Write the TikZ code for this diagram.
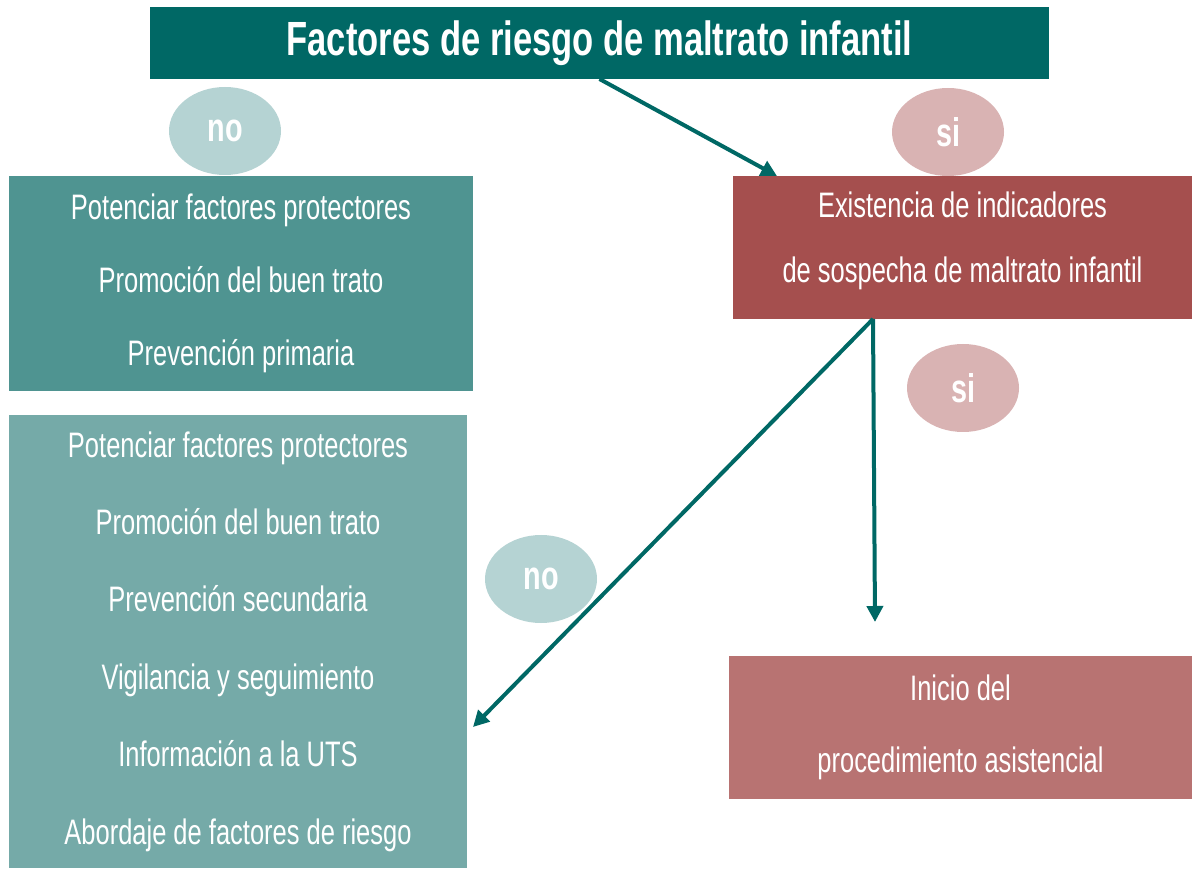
\documentclass[tikz,border=0pt]{standalone}
\usepackage{fontspec}
\setmainfont{Liberation Sans}[FakeStretch=0.72]
\usepackage{tikz}
\usetikzlibrary{shapes,arrows.meta,positioning,calc}
\definecolor{titlegreen}{HTML}{006865}
\definecolor{darkteal}{HTML}{4F9491}
\definecolor{lightteal}{HTML}{75AAA8}
\definecolor{darkred}{HTML}{A54F4E}
\definecolor{lightred}{HTML}{B87372}
\definecolor{nofill}{HTML}{B5D3D3}
\definecolor{sifill}{HTML}{D9B3B3}
\tikzset{
  box/.style={shape=rectangle,inner sep=0pt,outer sep=0pt,text=white,align=center,
    font={\fontsize{17.7}{36.5}\selectfont}},
  answer/.style={shape=ellipse,inner sep=0pt,outer sep=0pt,minimum width=56pt,
    minimum height=44pt,text=white,font={\fontsize{20}{24}\selectfont\bfseries}},
  flow/.style={draw=titlegreen,line width=2pt,-{Triangle[length=8pt,width=8pt]}}
}

\begin{document}
\begin{tikzpicture}[x=0.5pt,y=-0.5pt]
  \useasboundingbox (0,0) rectangle (1192,870);
  \path (599.5,43) node (title) [box,fill=titlegreen,minimum width=449.5pt,minimum height=36pt,
      font={\fontsize{24}{28}\selectfont\bfseries}] {Factores de riesgo de maltrato infantil}
  (241,283.5) node (primary) [box,fill=darkteal,minimum width=232pt,minimum height=107.5pt]
      {Potenciar factores protectores\\Promoción del buen trato\\Prevención primaria}
  (238,641.5) node (secondary) [box,fill=lightteal,minimum width=229pt,minimum height=226.5pt,
      font={\fontsize{17.7}{38.7}\selectfont}]
      {Potenciar factores protectores\\Promoción del buen trato\\Prevención secundaria\\
       Vigilancia y seguimiento\\Información a la UTS\\Abordaje de factores de riesgo}
  (962.5,247.5) node (indicators) [box,fill=darkred,minimum width=229.5pt,minimum height=71.5pt,
      font={\fontsize{17.7}{32.5}\selectfont}]
      {Existencia de indicadores\\de sospecha de maltrato infantil\\[-21.8pt]\mbox{}}
  (960.5,727.5) node (care) [box,fill=lightred,minimum width=231.5pt,minimum height=71.5pt,
      font={\fontsize{17.7}{36}\selectfont}]
      {Inicio del\\procedimiento asistencial}
  (225,131) node (no1) [answer,fill=nofill] {no}
  (948,132) node (si1) [answer,fill=sifill] {si}
  (963,388) node (si2) [answer,fill=sifill] {si}
  (541,579) node (no2) [answer,fill=nofill] {no};

  \coordinate (split) at ($(indicators.south west)+(140,0)$);
  \coordinate (caretip) at (875,622);
  \coordinate (secondtip) at (473,727);
  \draw[flow] (title.south) -- ($(indicators.north west)+(44,0)$);
  \draw[flow] (split) -- (caretip);
  \draw[flow] (split) -- (secondtip);
\end{tikzpicture}
\end{document}
